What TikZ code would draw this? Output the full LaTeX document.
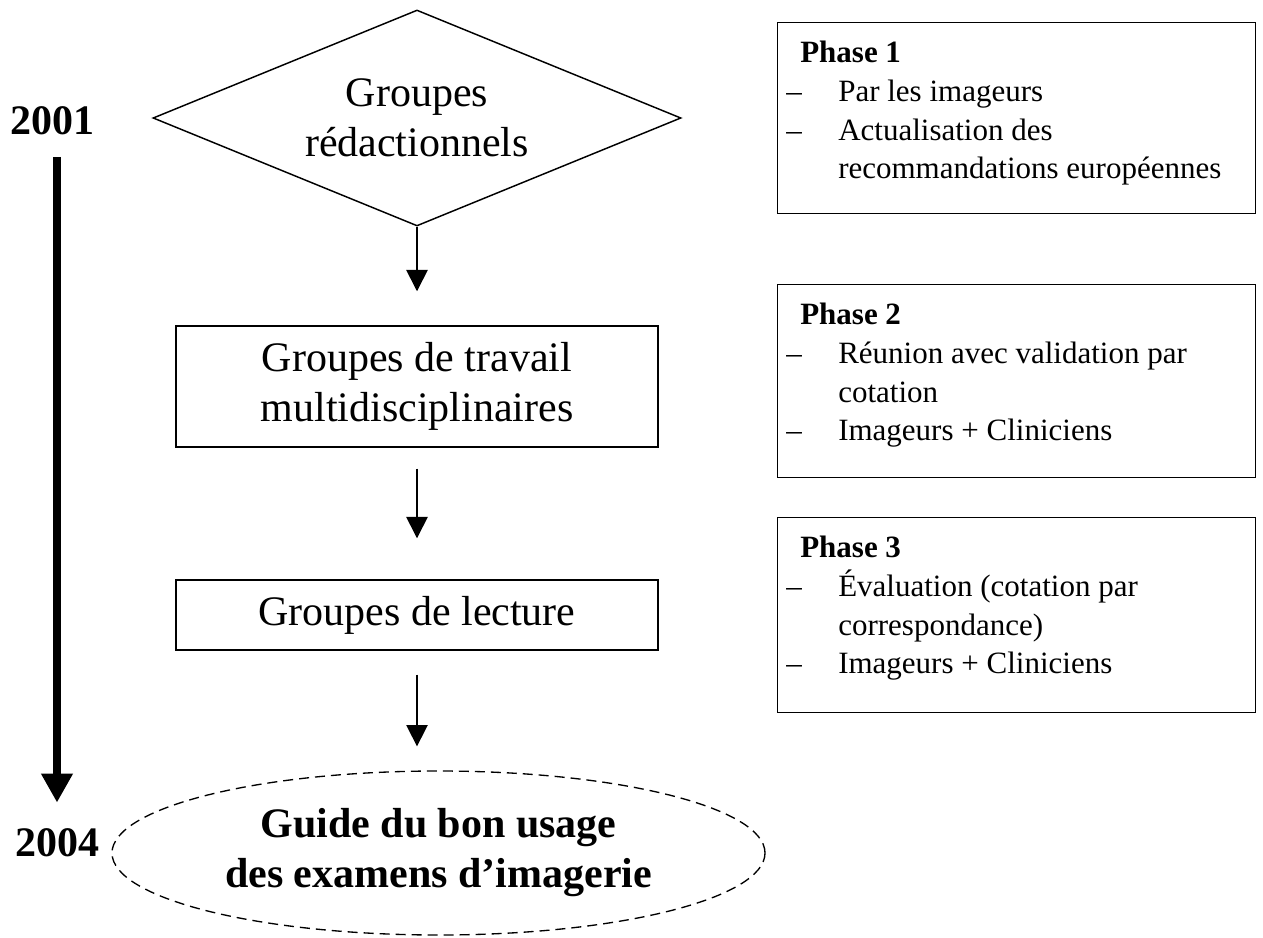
\documentclass[tikz,border=0pt]{standalone}
\usepackage{fontspec}
\setmainfont{Liberation Serif}
\usetikzlibrary{shapes,arrows.meta,positioning}
\newcommand\tiret{\makebox[39pt][l]{--}}
\newcommand\suite{\hspace*{39pt}}

\begin{document}
\begin{tikzpicture}[x=0.75pt,y=-0.75pt,
  grp/.style={draw,line width=1.1pt,align=center,inner sep=0pt,font=\fontsize{31.5}{37.5}\selectfont},
  etape/.style={grp,rectangle,minimum width=361.5pt},
  guide/.style={grp,ellipse,dash pattern=on 7.5pt off 4.5pt,line width=1pt,minimum width=489.75pt,minimum height=123pt,font=\fontsize{31.5}{37.5}\selectfont\bfseries},
  year/.style={inner sep=0pt,font=\fontsize{31.5}{37.5}\selectfont\bfseries},
  phasebox/.style={draw,line width=1.1pt,rectangle,anchor=north west,minimum width=358.5pt,inner sep=0pt},
  phasetext/.style={anchor=north west,align=left,inner sep=0pt,font=\fontsize{23.25}{29}\selectfont},
  fleche/.style={-{Triangle[length=16pt,width=16pt]},line width=1.2pt},
  temps/.style={-{Triangle[length=21.75pt,width=22.5pt]},line width=6pt}]
\useasboundingbox (0,0) rectangle (1263,938);

\node[grp,diamond,aspect=2.44,minimum width=396pt,minimum height=162pt] (redac) at (417,118) {Groupes\\r\'edactionnels};
\node[etape,minimum height=90.75pt] (travail) at (417,386.5) {Groupes de travail\\multidisciplinaires};
\node[etape,minimum height=52.5pt] (lecture) at (417,615) {Groupes de lecture};
\node[guide] (bonusage) at (438.5,853) {Guide du bon usage\\des examens d'imagerie};

\node[year] (y2001) at (52,121) {2001};
\node[year] (y2004) at (57,843) {2004};

% phases
\node[phasebox,minimum height=143.25pt] (ph1) at (777,22) {};
\node[phasetext] (ph1t) at (786,41) {\hspace*{10.5pt}\textbf{Phase 1}\\
  \tiret Par les imageurs\\
  \tiret Actualisation des\\
  \suite recommandations europ\'eennes};
\node[phasebox,minimum height=144.75pt] (ph2) at (777,284) {};
\node[phasetext] (ph2t) at (786,303) {\hspace*{10.5pt}\textbf{Phase 2}\\
  \tiret R\'eunion avec validation par\\
  \suite cotation\\
  \tiret Imageurs + Cliniciens};
\node[phasebox,minimum height=146.25pt] (ph3) at (777,517) {};
\node[phasetext] (ph3t) at (786,536) {\hspace*{10.5pt}\textbf{Phase 3}\\
  \tiret \'Evaluation (cotation par\\
  \suite correspondance)\\
  \tiret Imageurs + Cliniciens};

\path[fleche] (redac.south) edge[shorten >=25.5pt] (travail.north)
      (travail.south) edge[shorten <=15.75pt,shorten >=30.75pt] (lecture.north)
      (lecture.south) edge[shorten <=18pt,shorten >=18pt] (lecture.south |- bonusage.north);
\path[temps] (y2004.north |- y2001.south) edge[shorten <=16pt,shorten >=19.5pt] (y2004.north);
\end{tikzpicture}
\end{document}
